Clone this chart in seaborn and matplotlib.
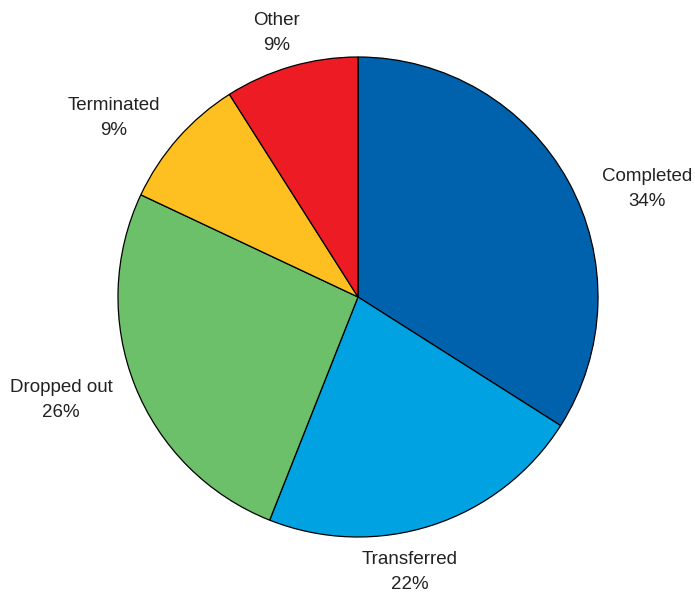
import matplotlib
matplotlib.use("Agg")
import matplotlib.pyplot as plt
import seaborn as sns

categories = ["Completed", "Transferred", "Dropped out", "Terminated", "Other"]
shares = [34, 22, 26, 9, 9]
colors = ["#0062AC", "#00A2E1", "#6CC06A", "#FDC020", "#ED1C24"]

# label anchor points, in units of the pie radius
label_pos = [(1.205, 0.45), (0.217, -1.145), (-1.237, -0.43), (-1.017, 0.745), (-0.338, 1.1)]

sns.set_theme(style="white")
plt.rcParams["font.family"] = ["Liberation Sans", "DejaVu Sans"]

fig = plt.figure(figsize=(6.95, 5.92), dpi=100)
ax = fig.add_axes([0, 0, 1, 1])
ax.pie(shares, colors=colors, startangle=90, counterclock=False, radius=1.0,
       wedgeprops=dict(edgecolor="black", linewidth=0.9))

for name, val, (x, y) in zip(categories, shares, label_pos):
    ax.text(x, y, f"{name}\n{val}%", ha="center", va="center",
            fontsize=13.5, color="#222222", linespacing=1.62)

ax.set_xlim(-358 / 240, (695 - 358) / 240)
ax.set_ylim(-(592 - 297) / 240, 297 / 240)
ax.set_aspect("equal")
ax.axis("off")
fig.savefig("out.png", dpi=100, facecolor="white")
